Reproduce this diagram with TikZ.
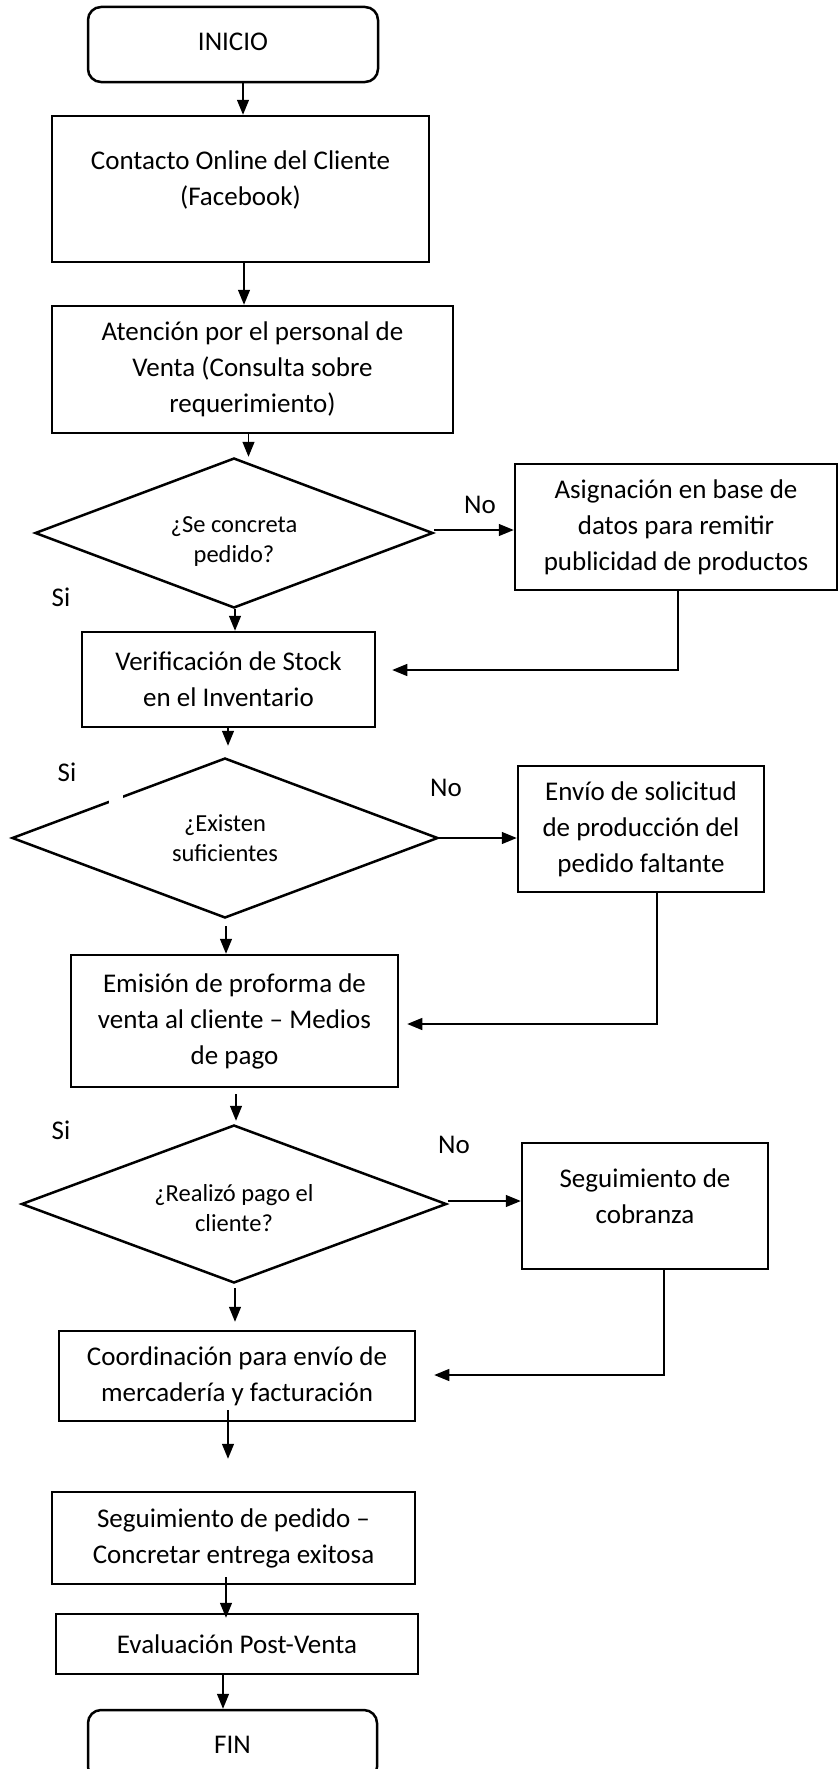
\documentclass[tikz,border=0pt]{standalone}
\usepackage{fontspec}
\setmainfont{Carlito}
\usetikzlibrary{arrows.meta,shapes.geometric}
\begin{document}
\begin{tikzpicture}[x=1pt,y=-1pt,
  box/.style={draw,line width=2.5pt,rectangle,align=center,inner sep=0pt,font=\fontsize{27}{36}\selectfont},
  term/.style={box,rounded corners=13pt},
  dec/.style={draw,line width=2.5pt,diamond,aspect=2.66,inner sep=0pt,align=center,font=\fontsize{24.5}{30}\selectfont},
  lab/.style={font=\fontsize{27}{32}\selectfont,inner sep=0pt},
  arr/.style={line width=1.3pt,-{Triangle[length=15pt,width=12pt]}}
]
\useasboundingbox[fill=white] (0,0) rectangle (838,1769);
\clip (0,0) rectangle (838,1769);

\node[term,minimum width=290pt,minimum height=75pt,text depth=6pt] (inicio) at (233,44.5) {INICIO};
\node[box,minimum width=377pt,minimum height=146pt,text depth=22pt] (contacto) at (240.5,189) {Contacto Online del Cliente\\(Facebook)};
\node[box,minimum width=401pt,minimum height=127pt] (atencion) at (252.5,369.5) {Atención por el personal de\\Venta (Consulta sobre\\requerimiento)};
\node[dec,minimum width=398pt,minimum height=150pt,text height=62pt] (d1) at (234,533) {¿Se concreta\\pedido?};
\node[box,minimum width=322pt,minimum height=126pt] (asig) at (676,527) {Asignación en base de\\datos para remitir\\publicidad de productos};
\node[box,minimum width=293pt,minimum height=95pt] (verif) at (228.5,679.5) {Verificación de Stock\\en el Inventario};
\node[dec,minimum width=426pt,minimum height=160pt] (d2) at (225,838) {¿Existen\\suficientes};
\fill[white] (109,792) rectangle (123,806);
\node[box,minimum width=246pt,minimum height=126pt] (envio) at (641,829) {Envío de solicitud\\de producción del\\pedido faltante};
\node[box,minimum width=327pt,minimum height=132pt] (emision) at (234.5,1021) {Emisión de proforma de\\venta al cliente – Medios\\de pago};
\node[dec,minimum width=425pt,minimum height=158pt,text height=56pt] (d3) at (234,1204) {¿Realizó pago el\\cliente?};
\node[box,minimum width=246pt,minimum height=126pt,text depth=19pt] (cobranza) at (645,1206) {Seguimiento de\\cobranza};
\node[box,minimum width=356pt,minimum height=90pt] (coord) at (237,1376) {Coordinación para envío de\\mercadería y facturación};
\node[box,minimum width=363pt,minimum height=92pt] (segped) at (233.5,1538) {Seguimiento de pedido –\\Concretar entrega exitosa};
\node[box,minimum width=362pt,minimum height=60pt] (eval) at (237,1644) {Evaluación Post-Venta};
\node[term,minimum width=289pt,minimum height=70pt] (fin) at (232.5,1745) {FIN};

\node[lab] (si1) at (61,597) {Si};
\node[lab] (no1) at (480,505) {No};
\node[lab] (si2) at (67,772) {Si};
\node[lab] (no2) at (446,788) {No};
\node[lab] (si3) at (61,1130) {Si};
\node[lab] (no3) at (454,1145) {No};

\draw[arr] ([xshift=10pt]inicio.south) -- ([xshift=2.5pt]contacto.north);
\draw[arr] ([xshift=3.5pt]contacto.south) -- ([xshift=-8.5pt]atencion.north);
\draw[arr] ([xshift=-4pt]atencion.south) -- ([xshift=14.5pt]d1.north);
\draw[arr] ([yshift=3pt]d1.east) -- ([yshift=3pt]d1.east -| asig.west);
\draw[arr] ([xshift=2pt]asig.south) |- ([xshift=16pt,yshift=9.5pt]verif.east);
\draw[arr] ([xshift=1pt]d1.south) -- ([xshift=6.5pt]verif.north);
\draw[arr] ([xshift=-0.5pt]verif.south) -- ([xshift=3pt,yshift=11pt]d2.north);
\draw[arr] (d2.east) -- (d2.east -| envio.west);
\draw[arr] ([xshift=16pt]envio.south) |- ([xshift=8pt,yshift=-3pt]emision.east);
\draw[arr] ([xshift=1pt,yshift=-7pt]d2.south) -- ([xshift=-8.5pt]emision.north);
\draw[arr] ([xshift=1.5pt,yshift=-6pt]emision.south) -- ([xshift=2pt,yshift=3pt]d3.north);
\draw[arr] ([yshift=3pt]d3.east) -- ([yshift=3pt]d3.east -| cobranza.west);
\draw[arr] ([xshift=19pt]cobranza.south) |- ([xshift=18pt,yshift=1pt]coord.east);
\draw[arr] ([xshift=1pt,yshift=-4pt]d3.south) -- ([xshift=-2pt,yshift=8pt]coord.north);
\draw[arr] ([xshift=-9pt,yshift=12pt]coord.south) -- ([xshift=-5.5pt,yshift=32pt]segped.north);
\draw[arr] ([xshift=-7.5pt,yshift=8pt]segped.south) -- ([xshift=-11pt,yshift=-5pt]eval.north);
\draw[arr] ([xshift=-14pt]eval.south) -- ([xshift=-9.5pt]fin.north);
\end{tikzpicture}
\end{document}
